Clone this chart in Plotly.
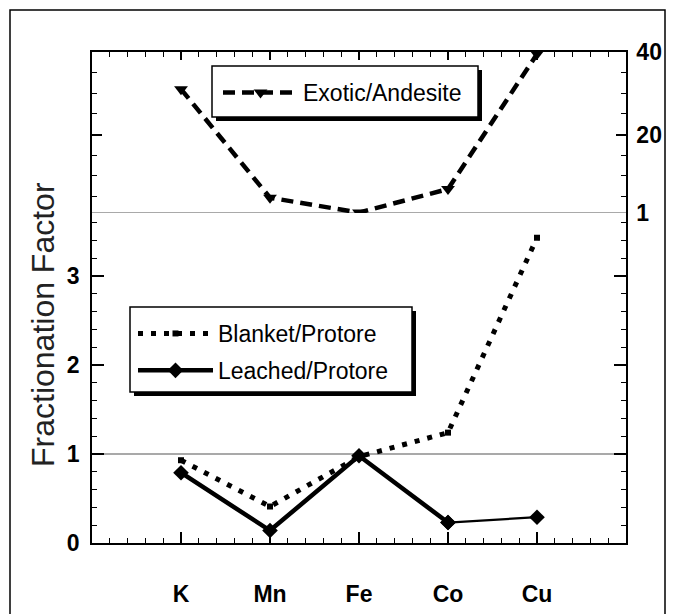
import plotly.graph_objects as go

# ---------------- data ----------------
categories = ["K", "Mn", "Fe", "Co", "Cu"]
cat_pos = [1, 2, 3, 4, 5]
exotic_andesite = [31.0, 4.7, 1.1, 6.8, 39.5]
blanket_protore = [0.93, 0.41, 0.97, 1.24, 3.43]
leached_protore = [0.79, 0.14, 0.98, 0.23, 0.29]
bottom_ticks = [0, 1, 2, 3]
top_ticks = [1, 20, 40]

# ---------------- geometry helpers (pixel -> paper) ----------------
W, H = 673, 614
L, R, T, B = 92, 626, 52, 543
def px(x):
    return (x - L) / (R - L)
def py(y):
    return (B - y) / (B - T)

split = py(213)
FONT = "Liberation Sans, Arial, sans-serif"

fig = go.Figure()

# top panel: Exotic/Andesite
fig.add_trace(go.Scatter(
    x=cat_pos, y=exotic_andesite, xaxis="x2", yaxis="y2",
    mode="lines+markers", name="Exotic/Andesite", legend="legend",
    line=dict(color="black", width=4.5, dash="12px,7px"),
    marker=dict(symbol="triangle-down", size=12, color="black"),
))

# bottom panel
fig.add_trace(go.Scatter(
    x=cat_pos, y=blanket_protore, xaxis="x", yaxis="y",
    mode="lines+markers", name="Blanket/Protore", legend="legend2",
    legendgroup="b",
    line=dict(color="black", width=5, dash="5px,8px"),
    marker=dict(symbol="square", size=6, color="black"),
))
fig.add_trace(go.Scatter(
    x=cat_pos[:4], y=leached_protore[:4], xaxis="x", yaxis="y",
    mode="lines+markers", name="Leached/Protore", legend="legend2",
    legendgroup="l",
    line=dict(color="black", width=4.5),
    marker=dict(symbol="diamond", size=12, color="black"),
))
fig.add_trace(go.Scatter(
    x=cat_pos[3:], y=leached_protore[3:], xaxis="x", yaxis="y",
    mode="lines+markers", showlegend=False, legendgroup="l", legend="legend2",
    line=dict(color="black", width=2.2),
    marker=dict(symbol="diamond", size=12, color="black"),
))

tickfont = dict(family=FONT, size=23, color="black", weight="bold")
minor_common = dict(tickmode="linear", tick0=0, ticks="inside",
                    ticklen=5, tickwidth=1, tickcolor="black")

fig.update_layout(
    width=W, height=H,
    margin=dict(l=L, r=W - R, t=T, b=H - B, autoexpand=False),
    paper_bgcolor="white", plot_bgcolor="white",
    font=dict(family=FONT, color="black"),
    xaxis=dict(
        domain=[0, 1], anchor="y", range=[0, 6], automargin=False,
        tickmode="array", tickvals=cat_pos, ticktext=categories,
        tickfont=tickfont, ticks="inside", ticklen=11, tickwidth=1.5,
        tickcolor="black", ticklabelstandoff=30,
        minor=dict(dtick=0.2, **minor_common),
        showline=True, linecolor="black", linewidth=1.5,
        showgrid=False, zeroline=False, mirror=False,
    ),
    xaxis2=dict(
        domain=[0, 1], anchor="y2", side="top", range=[0, 6], automargin=False,
        tickmode="array", tickvals=cat_pos, showticklabels=False,
        ticks="inside", ticklen=8, tickwidth=1.5, tickcolor="black",
        minor=dict(dtick=0.2, **minor_common),
        showline=True, linecolor="black", linewidth=1.5,
        showgrid=False, zeroline=False,
    ),
    yaxis=dict(
        domain=[0, split], anchor="x", range=[0, 3.708], automargin=False,
        tickmode="array", tickvals=bottom_ticks,
        tickfont=tickfont, ticks="inside", ticklen=12, tickwidth=1.5,
        tickcolor="black", ticklabelstandoff=6,
        minor=dict(dtick=0.2, **minor_common),
        showline=True, linecolor="black", linewidth=1.5, mirror="allticks",
        showgrid=False, zeroline=False,
    ),
    yaxis2=dict(
        domain=[split, 1], anchor="x2", side="right", range=[1, 40],
        automargin=False,
        tickmode="array", tickvals=top_ticks,
        tickfont=tickfont, ticks="inside", ticklen=10, tickwidth=1.5,
        tickcolor="black", ticklabelstandoff=4,
        minor=dict(dtick=5, **minor_common),
        showline=True, linecolor="black", linewidth=1.5, mirror="allticks",
        showgrid=False, zeroline=False,
    ),
    legend=dict(
        x=px(218), y=py(71), xanchor="left", yanchor="top",
        bgcolor="rgba(0,0,0,0)", borderwidth=0,
        font=dict(family=FONT, size=23, color="black"),
        itemwidth=75,
    ),
    legend2=dict(
        x=px(133), y=py(312), xanchor="left", yanchor="top",
        bgcolor="rgba(0,0,0,0)", borderwidth=0,
        font=dict(family=FONT, size=23, color="black"),
        itemwidth=75, tracegroupgap=4,
    ),
    showlegend=True,
)

# reference lines at 1 (bottom panel and top panel base)
fig.add_shape(type="line", xref="x", yref="y", x0=0, x1=6, y0=1, y1=1,
              line=dict(color="#555", width=1.2), layer="below")
fig.add_shape(type="line", xref="x2", yref="y2", x0=0, x1=6, y0=1, y1=1,
              line=dict(color="#555", width=1.2), layer="below")

# legend boxes with drop shadows
for (bx0, by0, bx1, by1) in [(212, 66, 478, 117), (130, 307, 412, 392)]:
    fig.add_shape(type="rect", xref="paper", yref="paper",
                  x0=px(bx0 + 4), x1=px(bx1 + 4), y0=py(by1 + 4), y1=py(by0 + 4),
                  fillcolor="black", line=dict(width=0), layer="above")
    fig.add_shape(type="rect", xref="paper", yref="paper",
                  x0=px(bx0), x1=px(bx1), y0=py(by1), y1=py(by0),
                  fillcolor="white", line=dict(color="black", width=1.5),
                  layer="above")

# y-axis title
fig.add_annotation(text="Fractionation Factor", xref="paper", yref="paper",
                   x=px(43), y=py(325), xanchor="center", yanchor="middle",
                   textangle=-90, showarrow=False,
                   font=dict(family=FONT, size=32, color="#222"))

# outer frame
fig.add_shape(type="rect", xref="paper", yref="paper",
              x0=px(10), x1=px(665), y0=py(640), y1=py(10),
              line=dict(color="black", width=1.5), fillcolor="rgba(0,0,0,0)")

fig.write_html("out.html")
